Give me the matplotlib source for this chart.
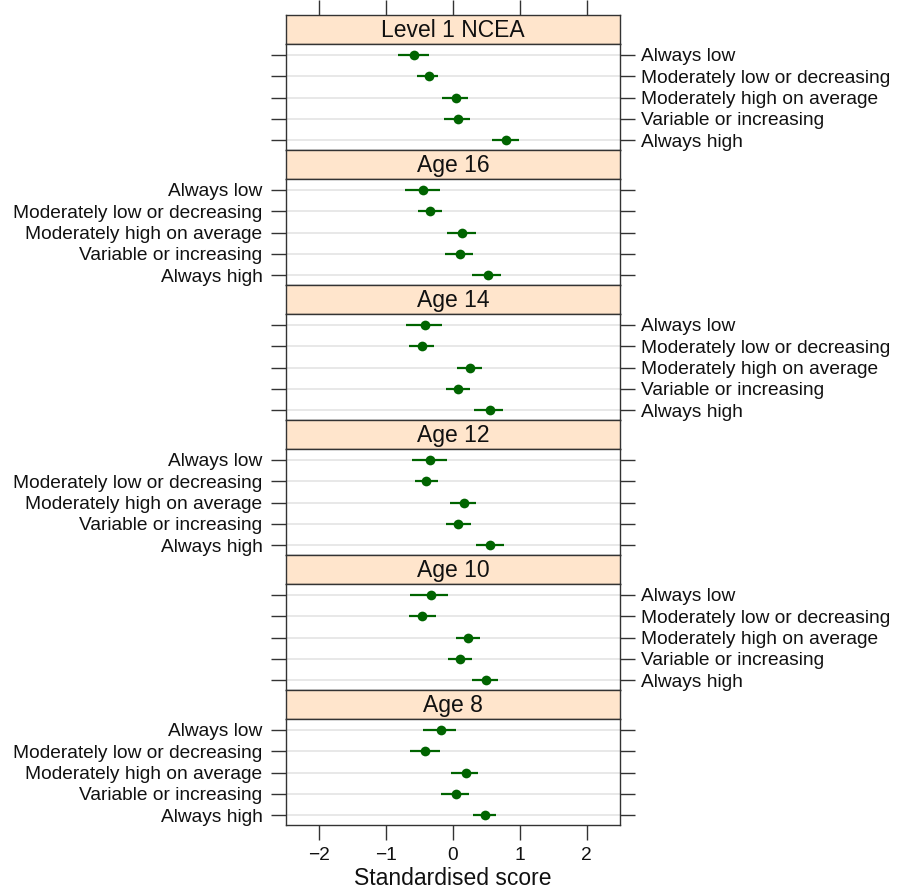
import matplotlib
matplotlib.use("Agg")
import matplotlib.pyplot as plt
import numpy as np

plt.rcParams['font.family'] = ['Liberation Sans', 'DejaVu Sans']

categories = ["Always low", "Moderately low or decreasing",
              "Moderately high on average", "Variable or increasing",
              "Always high"]

panels = ["Level 1 NCEA", "Age 16", "Age 14", "Age 12", "Age 10", "Age 8"]

# estimate, lower bound, upper bound per panel (rows follow `categories`)
est_ncea = [-0.59, -0.36, 0.05, 0.08, 0.80]
lo_ncea = [-0.83, -0.54, -0.16, -0.14, 0.59]
hi_ncea = [-0.36, -0.22, 0.22, 0.26, 0.99]

est_16 = [-0.45, -0.35, 0.13, 0.10, 0.52]
lo_16 = [-0.72, -0.53, -0.09, -0.12, 0.29]
hi_16 = [-0.19, -0.17, 0.34, 0.30, 0.72]

est_14 = [-0.42, -0.46, 0.26, 0.08, 0.55]
lo_14 = [-0.70, -0.66, 0.06, -0.11, 0.32]
hi_14 = [-0.17, -0.28, 0.44, 0.26, 0.75]

est_12 = [-0.34, -0.40, 0.16, 0.08, 0.55]
lo_12 = [-0.62, -0.57, -0.05, -0.10, 0.34]
hi_12 = [-0.09, -0.22, 0.34, 0.27, 0.77]

est_10 = [-0.33, -0.46, 0.23, 0.10, 0.50]
lo_10 = [-0.64, -0.66, 0.05, -0.08, 0.29]
hi_10 = [-0.07, -0.26, 0.40, 0.28, 0.68]

est_8 = [-0.18, -0.42, 0.19, 0.05, 0.48]
lo_8 = [-0.45, -0.64, -0.03, -0.18, 0.30]
hi_8 = [0.04, -0.20, 0.37, 0.24, 0.64]

estimates = [est_ncea, est_16, est_14, est_12, est_10, est_8]
lowers = [lo_ncea, lo_16, lo_14, lo_12, lo_10, lo_8]
uppers = [hi_ncea, hi_16, hi_14, hi_12, hi_10, hi_8]

x_ticks = [-2, -1, 0, 1, 2]
x_tick_labels = ["\u22122", "\u22121", "0", "1", "2"]
x_label = "Standardised score"

W, H = 900, 891
fig = plt.figure(figsize=(W / 100, H / 100), dpi=100)

left_px, right_px = 286, 620
top_px = 15
period = 135.0
strip_h = 29.0
data_h = period - strip_h

strip_col = "#ffe5cc"
frame_col = "#333333"
pt_col = "#006400"
grid_col = "#e6e6e6"
fs = 13.8
xlim = (-2.5, 2.5)

def frac_box(x0, y0, x1, y1):
    return [x0 / W, 1 - y1 / H, (x1 - x0) / W, (y1 - y0) / H]

ypos = np.arange(1, len(categories) + 1)

for i, name in enumerate(panels):
    y_strip = top_px + i * period
    sax = fig.add_axes(frac_box(left_px, y_strip, right_px, y_strip + strip_h))
    sax.set_facecolor(strip_col)
    sax.set_xlim(*xlim)
    sax.set_ylim(0, 1)
    sax.set_yticks([])
    for sp in sax.spines.values():
        sp.set_color(frame_col)
        sp.set_linewidth(1.0)
    if i == 0:
        sax.xaxis.set_ticks_position("top")
        sax.set_xticks(x_ticks)
        sax.set_xticklabels([])
        sax.tick_params(axis="x", direction="out", length=11, width=1.0,
                        color=frame_col)
    else:
        sax.set_xticks([])
    sax.text(0.5, 0.47, name, transform=sax.transAxes, ha="center",
             va="center", fontsize=16.5, color="#111111")

    dax = fig.add_axes(frac_box(left_px, y_strip + strip_h, right_px,
                                y_strip + period))
    dax.set_xlim(*xlim)
    dax.set_ylim(5.45, 0.5)
    for y in ypos:
        dax.axhline(y, color=grid_col, lw=1.3, zorder=1)
    dax.hlines(ypos, lowers[i], uppers[i], color=pt_col, lw=1.6, zorder=2)
    dax.plot(estimates[i], ypos, "o", color=pt_col, ms=7.0, mew=0, zorder=3)
    for sp in dax.spines.values():
        sp.set_color(frame_col)
        sp.set_linewidth(1.0)
    dax.set_yticks(ypos)
    dax.set_yticklabels(categories, fontsize=fs, color="#111111")
    if i % 2 == 0:
        dax.tick_params(axis="y", which="both", left=True, right=True,
                        direction="out", length=11, width=1.0,
                        color=frame_col, pad=4,
                        labelleft=False, labelright=True)
    else:
        dax.tick_params(axis="y", which="both", left=True, right=True,
                        direction="out", length=11, width=1.0,
                        color=frame_col, pad=6,
                        labelleft=True, labelright=False)
    if i == len(panels) - 1:
        dax.set_xticks(x_ticks)
        dax.set_xticklabels(x_tick_labels, fontsize=fs, color="#111111")
        dax.tick_params(axis="x", direction="out", length=11, width=1.0,
                        color=frame_col, pad=5)
        dax.set_xlabel(x_label, fontsize=16.5, color="#111111", labelpad=2)
    else:
        dax.set_xticks([])

fig.savefig("out.png", dpi=100, facecolor="white")
